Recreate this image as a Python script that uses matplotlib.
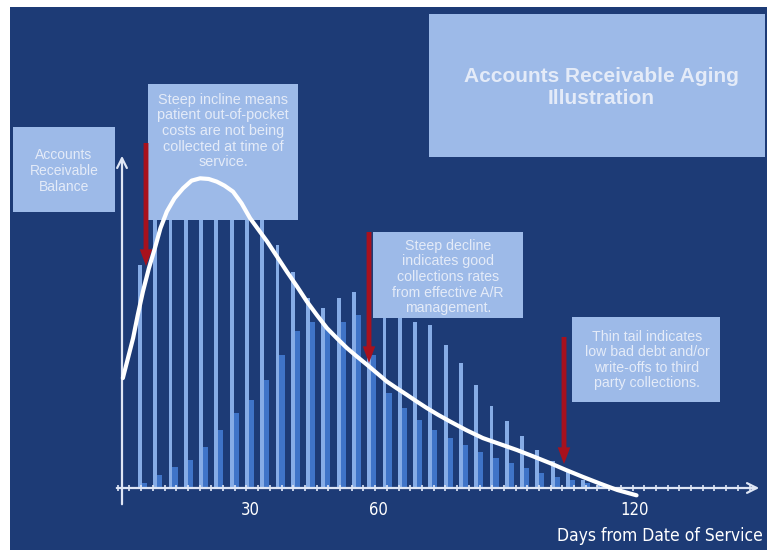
import numpy as np
import matplotlib
matplotlib.use("Agg")
import matplotlib.pyplot as plt
from matplotlib.patches import Rectangle

# ---------------- data ----------------
# light (tall) bars, left of each pair
bar_light = [67, 85, 88, 90, 90, 89, 87, 85, 82, 73, 65, 57, 54, 57, 59, 58,
             53, 52, 50, 49, 43, 37.5, 31, 24.5, 20, 15.5, 11.4, 8.2, 4.8, 2.5, 1.0]
# medium blue bars, right of each pair
bar_medium = [1.5, 4, 6.3, 8.4, 12.3, 17.4, 22.5, 26.4, 32.4, 40, 47, 50, 48, 50, 52, 40,
              28.5, 24, 20.4, 17.4, 15, 13, 10.8, 9, 7.5, 6, 4.5, 3.3, 2.4, 1.5, 0.8]
bar_first_day = 4.2
bar_step_days = 3.58

# ideal aging curve (days, balance)
curve_days = [0.2, 1.4, 2.6, 3.7, 4.9, 6.3, 7.7, 9.0, 10.5, 12.3, 14.3, 16.3, 18.3,
              20.3, 22.2, 24.0, 26.0, 28.0, 30.0, 32.0, 34.0, 36.3, 38.6, 41.0,
              43.3, 45.6, 48.0, 50.3, 52.7, 55.0, 57.4, 59.7, 62.0, 64.3, 66.7,
              69.0, 71.4, 74.0, 76.8, 80.6, 84.5, 88.5, 92.5, 96.3, 100.2, 104.0,
              108.0, 112.0, 116.0, 120.5]
curve_balance = [33, 39, 45, 52, 59, 66, 72, 78, 83, 87, 90, 92.3, 93,
                 92.8, 92, 90.8, 89, 85.5, 81, 77.5, 74, 69.5, 65, 60.5,
                 56, 52, 48, 45, 42, 39.5, 37, 34.5, 32, 30, 28,
                 26, 24, 22, 20, 17.4, 15, 13.2, 11.4, 9.5, 7.5, 5.4,
                 3.3, 1.3, -0.6, -2.2]

tick_values = [30, 60, 120]
tick_labels = ["30", "60", "120"]
x_title = "Days from Date of Service"
title = "Accounts Receivable Aging\nIllustration"
y_title = "Accounts\nReceivable\nBalance"
note_incline = ("Steep incline means\npatient out-of-pocket\ncosts are not being\n"
                "collected at time of\nservice.")
note_decline = ("Steep decline\nindicates good\ncollections rates\n"
                "from effective A/R\nmanagement.")
note_tail = ("Thin tail indicates\nlow bad debt and/or\nwrite-offs to third\n"
             "party collections.")

# ---------------- style ----------------
W, H = 767, 550
NAVY = "#1d3b76"
LIGHT = "#86ace6"
MED = "#3f74c8"
BOX = "#9dbae8"
BOXTXT = "#e4ebf8"
RED = "#a8111d"
AXC = "#dfe6f5"

X0, Y0 = 122, 488          # pixel position of origin
PXD, PXU = 4.27, 3.33      # pixels per day / per balance unit


def fx(px):
    return px / W


def fy(py):
    return 1 - py / H


fig = plt.figure(figsize=(W / 100, H / 100), dpi=100, facecolor="white")
ax = fig.add_axes([fx(10), 0, 1 - fx(10), (H - 7) / H])
ax.set_facecolor(NAVY)
ax.set_xlim((10 - X0) / PXD, (W - X0) / PXD)
ax.set_ylim((Y0 - H) / PXU, (Y0 - 7) / PXU)
for s in ax.spines.values():
    s.set_visible(False)
ax.set_xticks([])
ax.set_yticks([])

# bars
pos = bar_first_day + bar_step_days * np.arange(len(bar_light))
wl, wm = 0.9, 1.2
ax.bar(pos, bar_light, width=wl, color=LIGHT, zorder=2, linewidth=0)
ax.bar(pos + wl / 2 + wm / 2, bar_medium, width=wm, color=MED, zorder=2, linewidth=0)

# axes with arrows
ax.annotate("", xy=((762 - X0) / PXD, 0), xytext=((114 - X0) / PXD, 0),
            arrowprops=dict(arrowstyle="->,head_length=0.7,head_width=0.35",
                            color=AXC, lw=1.6), zorder=3)
ax.annotate("", xy=(0, (Y0 - 153) / PXU), xytext=(0, (Y0 - 507) / PXU),
            arrowprops=dict(arrowstyle="->,head_length=0.7,head_width=0.35",
                            color=AXC, lw=1.6), zorder=3)
minor = np.arange(-1.0, 148, 2.74)
ax.vlines(minor, -1.0, 1.0, color=AXC, lw=1.2, zorder=3)

# tick labels and axis title
cond = ["Liberation Sans Narrow", "DejaVu Sans"]
for v, lab in zip(tick_values, tick_labels):
    ax.text(v, (Y0 - 510) / PXU, lab, ha="center", va="center", color="white",
            fontsize=12, family=cond, fontstretch="condensed", zorder=4)
fig.text(fx(763), fy(536), x_title, ha="right", va="center", color="white",
         fontsize=12.5, family=cond, fontstretch="condensed")


# boxes
def box(x0, y0, x1, y1, text, cx, cy, size, bold=False, ls=1.2):
    r = Rectangle((fx(x0), fy(y1)), fx(x1) - fx(x0), fy(y0) - fy(y1),
                  transform=fig.transFigure, facecolor=BOX, edgecolor="none",
                  zorder=5)
    ax.add_artist(r)
    r.set_clip_on(False)
    ax.text(fx(cx), fy(cy), text, transform=fig.transFigure, ha="center",
            va="center", color=BOXTXT, fontsize=size, family="Liberation Sans",
            fontweight="bold" if bold else "normal", linespacing=ls, zorder=6,
            multialignment="center")


box(429, 14, 765, 157, title, 601, 88, 15, bold=True, ls=1.2)
box(13, 127, 115, 212, y_title, 64, 171, 10, ls=1.2)
box(148, 84, 298, 220, note_incline, 223, 131, 10.4, ls=1.14)
box(373, 232, 523, 318, note_decline, 448, 277, 10.2, ls=1.14)
box(572, 317, 720, 402, note_tail, 647, 360, 10.2, ls=1.14)

# red arrows
for x, ya, yb in [(146, 143, 266), (369, 232, 363), (564, 337, 464)]:
    ax.annotate("", xy=(x, H - yb), xytext=(x, H - ya),
                xycoords="figure pixels", textcoords="figure pixels",
                arrowprops=dict(arrowstyle="simple,head_length=1.2,head_width=0.9,tail_width=0.35",
                                color=RED, shrinkA=0, shrinkB=0, lw=0),
                zorder=7)

# curve
ax.plot(curve_days, curve_balance, color="white", lw=3.0, solid_capstyle="round",
        solid_joinstyle="round", zorder=8)

fig.savefig("out.png", dpi=100, facecolor="white")
